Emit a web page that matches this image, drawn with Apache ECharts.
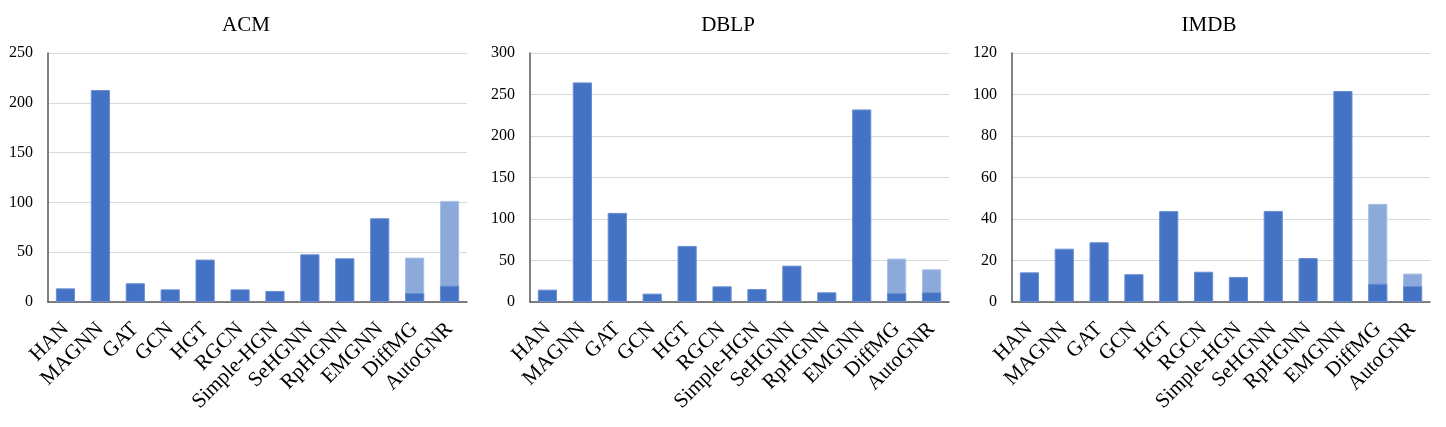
<!DOCTYPE html>
<html>
<head>
<meta charset="utf-8">
<script src="https://cdn.jsdelivr.net/npm/echarts@6/dist/echarts.min.js"></script>
<style>
html,body{margin:0;padding:0;background:#fff;}
#chart{width:1446px;height:427px;}
</style>
</head>
<body>
<div id="chart"></div>
<script>
const categories = ['HAN','MAGNN','GAT','GCN','HGT','RGCN','Simple-HGN','SeHGNN','RpHGNN','EMGNN','DiffMG','AutoGNR'];
const titles = ['ACM','DBLP','IMDB'];

// dark part (solid blue)
const acmMain  = [13.7, 212.8, 18.8, 12.7, 42.6, 12.7, 11.1, 47.9, 43.9, 84.1, 9.0, 16.4];
const dblpMain = [14.9, 264.6, 107.4, 10.1, 67.6, 18.9, 15.7, 43.8, 11.7, 232.0, 10.9, 11.7];
const imdbMain = [14.3, 25.7, 28.8, 13.4, 43.8, 14.6, 12.1, 43.9, 21.2, 101.7, 8.8, 7.7];

// total height of light (translucent) bars
const acmTotal  = [null, null, null, null, null, null, null, null, null, null, 44.6, 101.5];
const dblpTotal = [null, null, null, null, null, null, null, null, null, null, 52.3, 39.4];
const imdbTotal = [null, null, null, null, null, null, null, null, null, null, 47.3, 13.7];

const yMax = [250, 300, 120];
const yInterval = [50, 50, 20];

const mains = [acmMain, dblpMain, imdbMain];
const totals = [acmTotal, dblpTotal, imdbTotal];

const font = "'Liberation Serif','Times New Roman',serif";
const gridLefts = [48, 530, 1012];
const gridWidths = [419, 419, 418];
const titleCenters = [241, 723, 1204];

const option = {
  animation: false,
  backgroundColor: '#fff',
  title: titles.map((t, i) => ({
    text: t,
    left: titleCenters[i],
    top: 10,
    textAlign: 'center',
    textStyle: {fontFamily: font, fontSize: 21, fontWeight: 'normal', color: '#000'}
  })),
  grid: gridLefts.map((l, i) => ({left: l, width: gridWidths[i], top: 53, height: 249})),
  xAxis: [0,1,2].map(i => ({
    type: 'category',
    gridIndex: i,
    data: categories,
    axisLine: {lineStyle: {color: '#595959', width: 1.5}},
    axisTick: {show: false},
    axisLabel: {rotate: 45, interval: 0, fontFamily: font, fontSize: 21, color: '#000', margin: 24}
  })),
  yAxis: [0,1,2].map(i => ({
    type: 'value',
    gridIndex: i,
    min: 0,
    max: yMax[i],
    interval: yInterval[i],
    axisLine: {show: true, lineStyle: {color: '#595959', width: 1.5}},
    axisTick: {show: false},
    splitLine: {lineStyle: {color: '#d9d9d9', width: 1}},
    axisLabel: {fontFamily: font, fontSize: 16, color: '#000', margin: 15}
  })),
  series: []
};

for (let i = 0; i < 3; i++) {
  option.series.push({
    type: 'bar',
    xAxisIndex: i, yAxisIndex: i,
    data: totals[i],
    barWidth: '55%',
    barGap: '-100%',
    itemStyle: {color: '#8CA9DB', borderColor: '#A9C0E6', borderWidth: 1},
    z: 2
  });
  option.series.push({
    type: 'bar',
    xAxisIndex: i, yAxisIndex: i,
    data: mains[i],
    barWidth: '55%',
    barGap: '-100%',
    itemStyle: {color: '#4472C4', borderColor: '#6A8FD2', borderWidth: 1},
    z: 3
  });
}

const chart = echarts.init(document.getElementById('chart'), null, {renderer: 'canvas'});
chart.setOption(option);
</script>
</body>
</html>
